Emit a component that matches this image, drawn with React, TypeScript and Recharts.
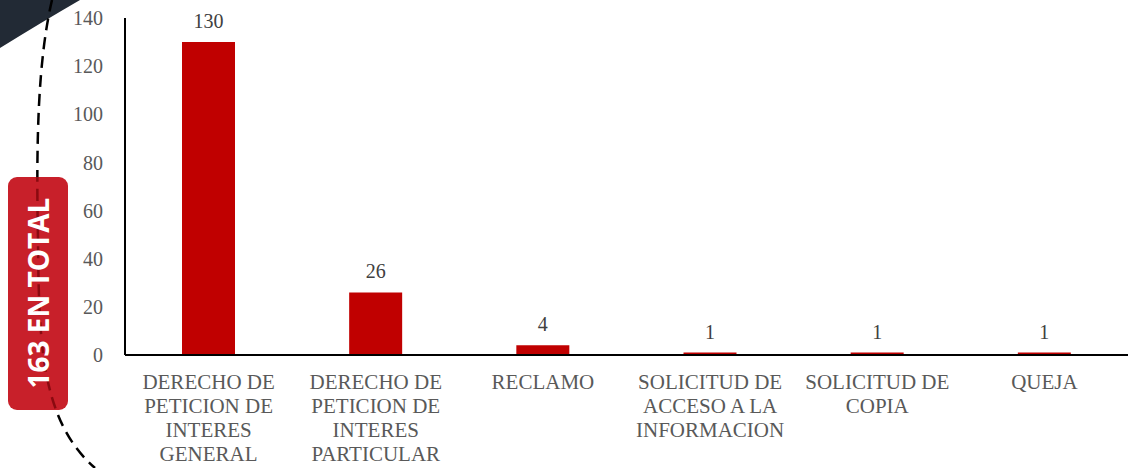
import React from 'react';
import { BarChart, Bar, XAxis, YAxis, LabelList } from 'recharts';

const categories: string[] = [
  'DERECHO DE PETICION DE INTERES GENERAL',
  'DERECHO DE PETICION DE INTERES PARTICULAR',
  'RECLAMO',
  'SOLICITUD DE ACCESO A LA INFORMACION',
  'SOLICITUD DE COPIA',
  'QUEJA',
];
const values: number[] = [130, 26, 4, 1, 1, 1];
const yTicks: number[] = [0, 20, 40, 60, 80, 100, 120, 140];
const totalLabel = '163 EN TOTAL';

const data = categories.map((c, i) => ({ name: c, value: values[i] }));

const SERIF = '"Liberation Serif", "Times New Roman", serif';

function wrap(text: string, maxChars: number): string[] {
  const words = text.split(' ');
  const lines: string[] = [];
  let cur = '';
  for (const w of words) {
    const t = cur ? cur + ' ' + w : w;
    if (t.length > maxChars && cur) {
      lines.push(cur);
      cur = w;
    } else cur = t;
  }
  if (cur) lines.push(cur);
  return lines;
}

const XTick = (props: any) => {
  const { x, y, payload } = props;
  const lines = wrap(payload.value, 13);
  return (
    <g transform={`translate(${x},${y})`}>
      {lines.map((l, i) => (
        <text
          key={i}
          x={0}
          y={i * 24 + 32}
          textAnchor="middle"
          fill="#595959"
          fontFamily={SERIF}
          fontSize={21}
        >
          {l}
        </text>
      ))}
    </g>
  );
};

const dashPath = 'M52,0 C38,60 36,140 38,240 C39,340 40,420 95,468';

export default function App() {
  return (
    <div style={{ position: 'fixed', left: 0, top: 0, width: 1128, height: 468, background: '#fff', overflow: 'hidden' }}>
      <svg width={1128} height={468} style={{ position: 'absolute', left: 0, top: 0 }}>
        <defs>
          <clipPath id="rectClip">
            <rect x={8} y={177} width={60} height={233} rx={9} ry={9} />
          </clipPath>
        </defs>
        <path d="M0,0 L80,0 Q42,22 0,48 Z" fill="#222a35" />
        <path d={dashPath} fill="none" stroke="#000" strokeWidth={2.5} strokeDasharray="12 7" />
        <rect x={8} y={177} width={60} height={233} rx={9} ry={9} fill="#c8202a" />
        <path
          d={dashPath}
          fill="none"
          stroke="#8a0a10"
          strokeWidth={2.5}
          strokeDasharray="12 7"
          clipPath="url(#rectClip)"
        />
        <text
          x={0}
          y={0}
          transform="translate(49,293) rotate(-90)"
          textAnchor="middle"
          fill="#fff"
          fontFamily='"Open Sans", sans-serif'
          fontWeight={700}
          fontSize={28}
        >
          {totalLabel}
        </text>
      </svg>
      <div style={{ position: 'absolute', left: 0, top: 0 }}>
        <BarChart width={1128} height={468} data={data} margin={{ top: 18, right: 0, left: 0, bottom: 0 }}>
          <YAxis
            width={125}
            domain={[0, 140]}
            ticks={yTicks}
            axisLine={{ stroke: '#000', strokeWidth: 2 }}
            tickLine={false}
            tickSize={0}
            tickMargin={22}
            tick={{ fill: '#595959', fontFamily: SERIF, fontSize: 20 }}
            interval={0}
          />
          <XAxis
            dataKey="name"
            axisLine={{ stroke: '#000', strokeWidth: 2 }}
            tickLine={false}
            tickSize={0}
            interval={0}
            tick={<XTick />}
            height={113}
          />
          <Bar dataKey="value" fill="#c00000" barSize={53} isAnimationActive={false}>
            <LabelList
              dataKey="value"
              position="top"
              offset={14}
              fill="#404040"
              fontFamily={SERIF}
              fontSize={20}
            />
          </Bar>
        </BarChart>
      </div>
    </div>
  );
}
